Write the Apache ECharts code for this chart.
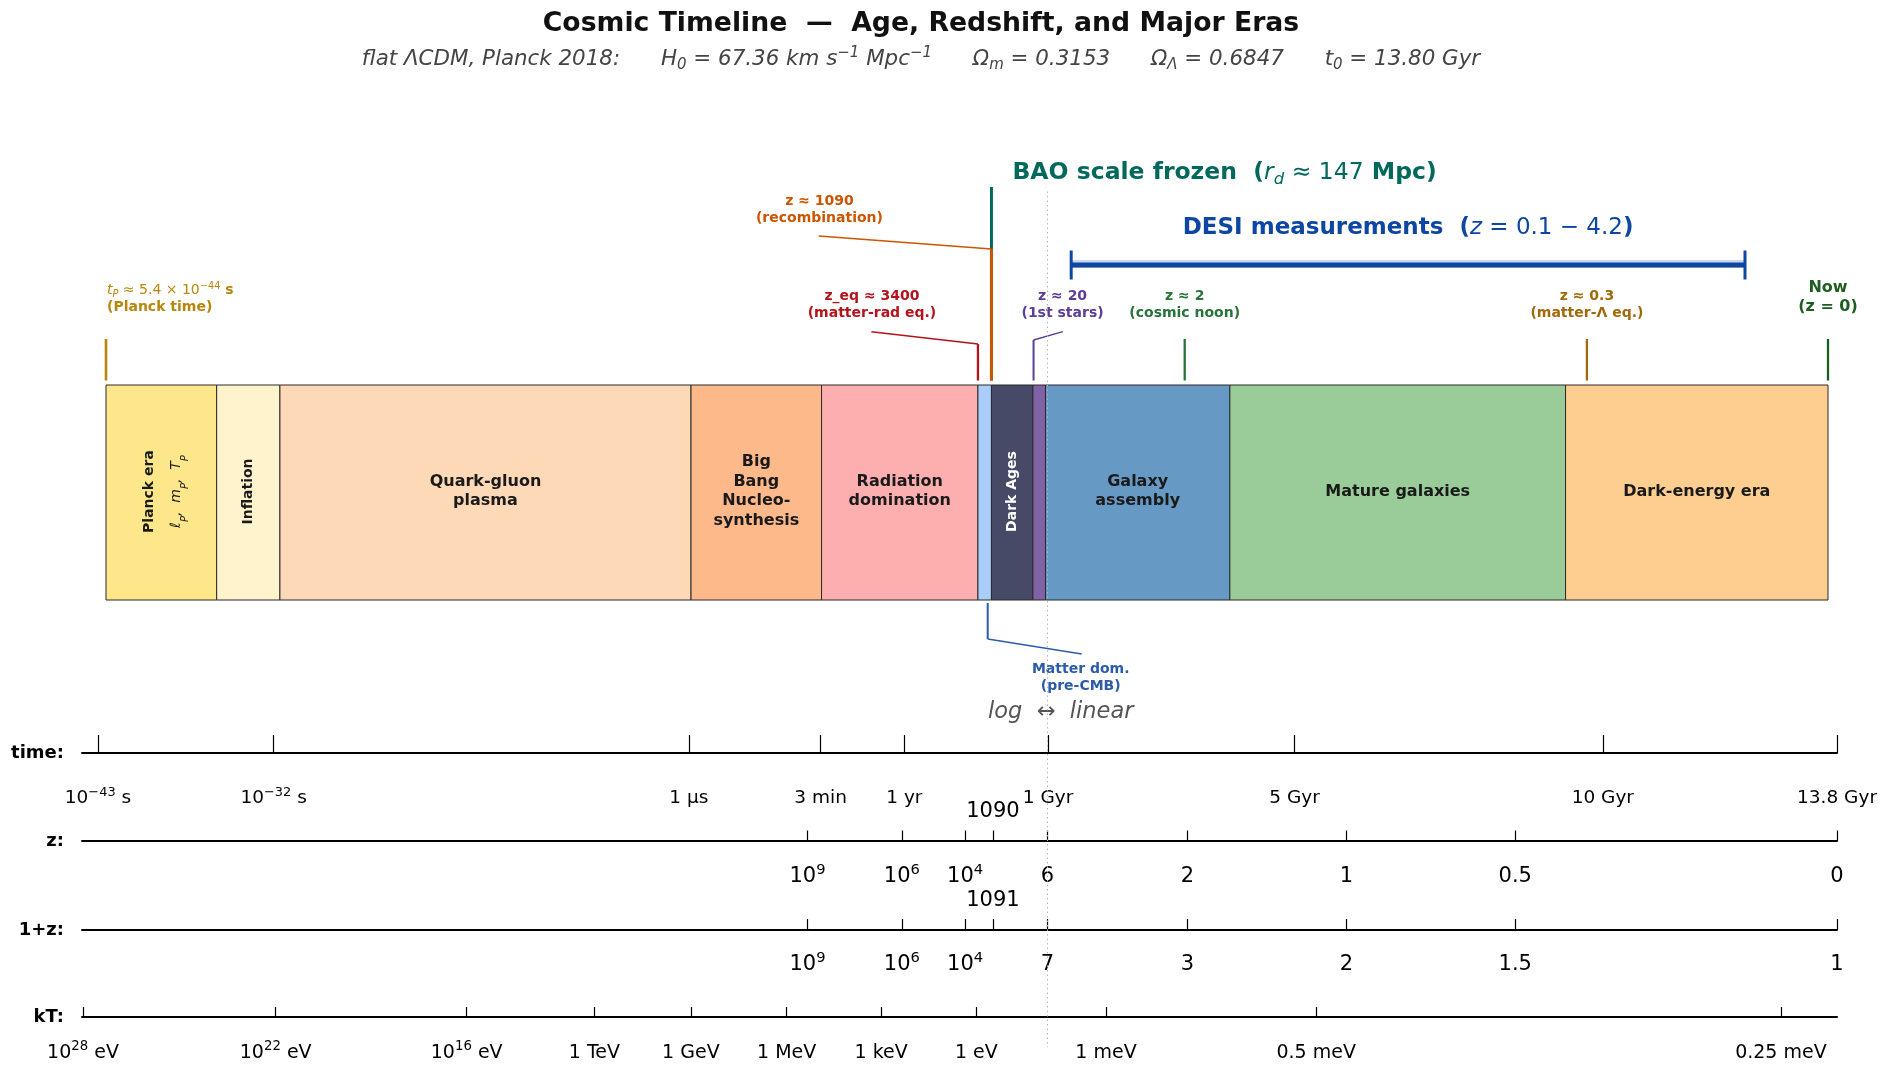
<!DOCTYPE html>
<html>
<head>
<meta charset="utf-8">
<title>Cosmic Timeline</title>
<script src="https://cdn.jsdelivr.net/npm/echarts@6/dist/echarts.min.js"></script>
<style>
  html, body { margin: 0; padding: 0; background: #fff; }
  #main { width: 1890px; height: 1079px; }
</style>
</head>
<body>
<div id="main"></div>
<script>
// time units and the broken timeline scale: log10(t/s) up to 1 Gyr, linear in Gyr after
var YR = 3.156e7;
var GYR = 3.156e16;
var DEC_PER_GYR = 3.86;   // width of one Gyr in the linear part, in decades of the log part
var LOG_GYR = Math.log10(GYR);
function toAxis(t) {
  return t <= GYR ? Math.log10(t) : LOG_GYR + DEC_PER_GYR * (t / GYR - 1);
}

// eras, ages in seconds
var eraNames = ['Planck era', 'Inflation', 'Quark-gluon\nplasma', 'Big\nBang\nNucleo-\nsynthesis',
  'Radiation\ndomination', 'Matter dom.', 'Dark Ages', '1st stars', 'Galaxy\nassembly',
  'Mature galaxies', 'Dark-energy era'];
var eraStart = [1e-43, 1e-36, 1e-32, 1e-6, 180, 1.4e12, 1.0e13, 4.2e15, 0.83 * GYR, 4.0 * GYR, 9.5 * GYR];
var eraEnd = [1e-36, 1e-32, 1e-6, 180, 1.4e12, 1.0e13, 4.2e15, 0.83 * GYR, 4.0 * GYR, 9.5 * GYR, 13.8 * GYR];

// event markers above the bar
var markerAges = [1e-43, 1.4e12, 1.0e13, 4.6e15, 3.26 * GYR, 9.85 * GYR, 13.8 * GYR];
var markerLabels = [
  '{i|t}{sub|P}{r| ≈ 5.4 × 10}{sup|−44}{b| s}\n{b|(Planck time)}',
  'z_eq ≈ 3400\n(matter-rad eq.)',
  'z ≈ 1090\n(recombination)',
  'z ≈ 20\n(1st stars)',
  'z ≈ 2\n(cosmic noon)',
  'z ≈ 0.3\n(matter-Λ eq.)',
  'Now\n(z = 0)'
];
var baoLabel = '{b|BAO scale frozen  (}{i|r}{sub|d}{r| ≈ 147}{b| Mpc)}';
var desiRange = [1.40 * GYR, 12.44 * GYR];   // z = 4.2 ... 0.1
var desiLabel = '{b|DESI measurements  (}{i|z}{r| = 0.1 − 4.2}{b|)}';
var matterDomAge = 5.8e12;
var matterDomLabel = 'Matter dom.\n(pre-CMB)';

// lower axes: tick ages (s) and labels
var timeTickAges = [1e-43, 1e-32, 1e-6, 180, YR, GYR, 5 * GYR, 10 * GYR, 13.8 * GYR];
var timeTickLabels = ['10⁻⁴³ s', '10⁻³² s', '1 µs', '3 min', '1 yr', '1 Gyr', '5 Gyr', '10 Gyr', '13.8 Gyr'];
var zTickAges = [27, 2.2e7, 2.0e11, 1.12e13, 0.93 * GYR, 3.26 * GYR, 5.84 * GYR, 8.58 * GYR, 13.8 * GYR];
var zTickLabels = ['10⁹', '10⁶', '10⁴', '1090', '6', '2', '1', '0.5', '0'];
var onePlusZTickLabels = ['10⁹', '10⁶', '10⁴', '1091', '7', '3', '2', '1.5', '1'];
var kTTickAges = [1.15e-44, 1.35e-32, 1.23e-20, 1.23e-12, 1.35e-6, 1.35, 1.12e6, 1.02e12,
  1.94 * GYR, 5.35 * GYR, 12.89 * GYR];
var kTTickLabels = ['10²⁸ eV', '10²² eV', '10¹⁶ eV', '1 TeV', '1 GeV', '1 MeV', '1 keV', '1 eV',
  '1 meV', '0.5 meV', '0.25 meV'];
var raisedLabels = ['1090', '1091'];

// ---- styles & layout ----
var FONT = 'DejaVu Sans';
var eraColors = ['#fee78a', '#fef3cd', '#fed9b7', '#feb98b', '#fdafb0', '#aacdfa',
  '#474a66', '#8062a6', '#6699c4', '#99cc99', '#fecd90'];
var eraLabelMode = ['v', 'v', 'h', 'h', 'h', '', 'v', '', 'h', 'h', 'h'];
var markerLayout = [
  { color: '#b8860b', width: 2.6, path: [[0, -4.5], [0, -46]], dx: 1, dy: -86, align: 'left', size: 14, lh: 18 },
  { color: '#b5121b', width: 2.3, path: [[0, -4.5], [0, -41], [-106.6, -53.3]], dx: -106, dy: -80.5, size: 14, lh: 17 },
  { color: '#cc5500', width: 3, path: [[0, -4.5], [0, -136], [-172.7, -149]], dx: -172, dy: -175.5, size: 14, lh: 17, bao: true },
  { color: '#5e3c99', width: 2, path: [[0, -4.5], [0, -45], [29.3, -53.3]], dx: 29, dy: -80.5, size: 14, lh: 17 },
  { color: '#27733a', width: 2.3, path: [[0, -4.5], [0, -46]], dx: 0, dy: -80.5, size: 14, lh: 17 },
  { color: '#a0690a', width: 2.3, path: [[0, -4.5], [0, -46]], dx: 0, dy: -80.5, size: 14, lh: 17 },
  { color: '#1b5e20', width: 2.3, path: [[0, -4.5], [0, -46]], dx: 0, dy: -87.5, size: 16, lh: 19 }
];
var BAO_COLOR = '#00695c';
var DESI_COLOR = '#0d47a1';
var MATTER_COLOR = '#2a5caa';
var TOP_MIN = toAxis(1e-43);
var BOTTOM_MIN = -44;
var U_MAX = toAxis(13.8 * GYR);

function rich(color, size, allItalic) {
  var base = { fontFamily: FONT, fill: color, color: color, fontSize: size, lineHeight: size * 1.25,
    fontStyle: allItalic ? 'italic' : 'normal' };
  var small = size * 0.7;
  return {
    b: Object.assign({}, base, { fontWeight: 'bold' }),
    r: Object.assign({}, base, { fontWeight: 'normal' }),
    i: Object.assign({}, base, { fontStyle: 'italic' }),
    sub: Object.assign({}, base, { fontStyle: 'italic', fontSize: small, lineHeight: small, verticalAlign: 'bottom' }),
    sup: Object.assign({}, base, { fontSize: small, lineHeight: small, verticalAlign: 'top' })
  };
}

// '10⁻⁴³ s' -> '{n|10}{s|−43}{n| s}' so the exponent is drawn like a math superscript
var SUP = '⁰¹²³⁴⁵⁶⁷⁸⁹⁻', PLAIN = '0123456789−';
function supToRich(label) {
  var out = '', cur = '', inSup = false;
  function flush() { if (cur) out += '{' + (inSup ? 's' : 'n') + '|' + cur + '}'; cur = ''; }
  for (var k = 0; k < label.length; k++) {
    var j = SUP.indexOf(label[k]);
    if ((j >= 0) !== inSup) { flush(); inSup = j >= 0; }
    cur += j >= 0 ? PLAIN[j] : label[k];
  }
  flush();
  return out;
}
function tickRich(size) {
  return {
    n: { fontFamily: FONT, fontSize: size, lineHeight: size * 1.3, color: '#000' },
    s: { fontFamily: FONT, fontSize: size * 0.7, lineHeight: size * 0.7, color: '#000', verticalAlign: 'top' }
  };
}

function textEl(x, y, text, o) {
  return {
    type: 'text', x: x, y: y, rotation: o.rotation || 0,
    style: {
      text: text, fill: o.color, fontFamily: FONT, fontSize: o.size, fontWeight: o.weight || 'bold',
      fontStyle: o.style || 'normal', lineHeight: o.lh, align: o.align || 'center', textAlign: o.align || 'center',
      verticalAlign: 'middle', textVerticalAlign: 'middle', rich: o.rich
    }
  };
}
function seg(x1, y1, x2, y2, color, w) {
  return { type: 'line', shape: { x1: x1, y1: y1, x2: x2, y2: y2 }, style: { stroke: color, lineWidth: w } };
}

function renderEra(params, api) {
  var i = params.dataIndex;
  var p0 = api.coord([api.value(0), 1]);
  var p1 = api.coord([api.value(1), 0]);
  var kids = [{
    type: 'rect', shape: { x: p0[0], y: p0[1], width: p1[0] - p0[0], height: p1[1] - p0[1] },
    style: { fill: eraColors[i], stroke: '#2b2b2b', lineWidth: 1 }
  }];
  var cx = (p0[0] + p1[0]) / 2, cy = (p0[1] + p1[1]) / 2 - 1;
  var fg = i === 6 ? '#ffffff' : '#1a1a1a';
  if (i === 0) {
    var pr = rich(fg, 14);
    pr.b.lineHeight = 27; pr.i.lineHeight = 27;
    pr.sub.fontSize = 10; pr.sub.lineHeight = 10;
    kids.push(textEl(cx + 2, cy, '{b|' + eraNames[i] + '}\n{i|ℓ}{sub|P}{i|,  m}{sub|P}{i|,  T}{sub|P}',
      { color: fg, size: 14, rotation: Math.PI / 2, rich: pr }));
  } else if (eraLabelMode[i] === 'v') {
    kids.push(textEl(cx, cy, eraNames[i], { color: fg, size: 14, rotation: Math.PI / 2 }));
  } else if (eraLabelMode[i] === 'h') {
    kids.push(textEl(cx, cy, eraNames[i], { color: fg, size: 16, lh: 19.5 }));
  }
  return { type: 'group', children: kids };
}

function renderMarker(params, api) {
  var i = params.dataIndex, L = markerLayout[i];
  var p = api.coord([api.value(0), 1]);
  var x = p[0], y = p[1];
  var kids = [];
  if (L.bao) {
    kids.push(seg(x, y - 4.5, x, y - 198, BAO_COLOR, 3));
    kids.push(textEl(x + 21, y - 212, baoLabel, { color: BAO_COLOR, size: 23.5, align: 'left', rich: rich(BAO_COLOR, 23.5) }));
  }
  var pts = L.path.map(function (d) { return [x + d[0], y + d[1]]; });
  kids.push(seg(pts[0][0], pts[0][1], pts[1][0], pts[1][1], L.color, L.width));
  if (pts.length > 2) kids.push(seg(pts[1][0], pts[1][1], pts[2][0], pts[2][1], L.color, 1.4));
  kids.push(textEl(x + L.dx, y + L.dy, markerLabels[i],
    { color: L.color, size: L.size, lh: L.lh, align: L.align, rich: rich(L.color, L.size) }));
  return { type: 'group', children: kids };
}

function renderDesi(params, api) {
  var a = api.coord([api.value(0), 1]), b = api.coord([api.value(1), 1]);
  var y = a[1] - 120;
  return { type: 'group', children: [
    seg(a[0], y - 1, b[0], y - 1, '#c9d7ef', 8),
    seg(a[0], y, b[0], y, DESI_COLOR, 5),
    seg(a[0], y - 14.5, a[0], y + 14.5, DESI_COLOR, 3),
    seg(b[0], y - 14.5, b[0], y + 14.5, DESI_COLOR, 3),
    textEl((a[0] + b[0]) / 2, y - 37, desiLabel, { color: DESI_COLOR, size: 23, rich: rich(DESI_COLOR, 23) })
  ] };
}

function renderBelow(params, api) {
  var p = api.coord([api.value(0), 0]);
  var x = p[0], y = p[1];
  if (params.dataIndex === 0) {
    return { type: 'group', children: [
      seg(x, y + 3, x, y + 39, MATTER_COLOR, 2),
      seg(x, y + 39, x + 94, y + 54, MATTER_COLOR, 1.4),
      textEl(x + 93, y + 77.5, matterDomLabel, { color: MATTER_COLOR, size: 14, lh: 17 })
    ] };
  }
  return textEl(x + 14, y + 111.7, 'log  ↔  linear', { color: '#555555', size: 22.5, weight: 'normal', style: 'italic' });
}

function nearestLabel(vals, labels, v) {
  var best = 0;
  for (var k = 1; k < vals.length; k++) if (Math.abs(vals[k] - v) < Math.abs(vals[best] - v)) best = k;
  return supToRich(labels[best]);
}

function lowerAxis(gridIndex, name, ages, labels, o) {
  var vals = ages.map(toAxis);
  var below = vals.filter(function (v, k) { return raisedLabels.indexOf(labels[k]) < 0; });
  return {
    type: 'value', gridIndex: gridIndex, min: BOTTOM_MIN, max: U_MAX, position: 'bottom',
    name: name, nameLocation: 'start', nameGap: 18,
    nameTextStyle: { fontFamily: FONT, fontWeight: 'bold', fontSize: 18, color: '#000' },
    axisLine: { show: true, onZero: false, lineStyle: { color: '#000', width: 2 } },
    axisTick: { show: true, inside: true, length: o.tick, customValues: vals, lineStyle: { color: '#000', width: 1.2 } },
    axisLabel: { show: true, customValues: below, margin: o.margin, fontFamily: FONT, fontSize: o.size, color: '#000',
      rich: tickRich(o.size),
      formatter: function (v) { return nearestLabel(vals, labels, v); } },
    splitLine: { show: false }
  };
}
function raisedAxis(gridIndex, ages, labels) {
  var vals = ages.map(toAxis);
  var up = vals.filter(function (v, k) { return raisedLabels.indexOf(labels[k]) >= 0; });
  return {
    type: 'value', gridIndex: gridIndex, min: BOTTOM_MIN, max: U_MAX, position: 'top',
    axisLine: { show: false }, axisTick: { show: false }, splitLine: { show: false },
    axisLabel: { show: true, customValues: up, margin: 15, fontFamily: FONT, fontSize: 21, color: '#000',
      rich: tickRich(21),
      formatter: function (v) { return nearestLabel(vals, labels, v); } }
  };
}

var lowerGrid = { left: 82, right: 53, height: 1 };
var option = {
  backgroundColor: '#ffffff',
  animation: false,
  grid: [
    { left: 106, right: 62, top: 170, bottom: 27.5 },
    Object.assign({ top: 752 }, lowerGrid),
    Object.assign({ top: 840 }, lowerGrid),
    Object.assign({ top: 929 }, lowerGrid),
    Object.assign({ top: 1016 }, lowerGrid)
  ],
  xAxis: [
    { type: 'value', gridIndex: 0, min: TOP_MIN, max: U_MAX, show: false },
    lowerAxis(1, 'time:', timeTickAges, timeTickLabels, { tick: 18, margin: 33, size: 18.5 }),
    lowerAxis(2, 'z:', zTickAges, zTickLabels, { tick: 10.5, margin: 21.5, size: 21 }),
    raisedAxis(2, zTickAges, zTickLabels),
    lowerAxis(3, '1+z:', zTickAges, onePlusZTickLabels, { tick: 11, margin: 20.5, size: 21 }),
    raisedAxis(3, zTickAges, onePlusZTickLabels),
    lowerAxis(4, 'kT:', kTTickAges, kTTickLabels, { tick: 10, margin: 23.5, size: 19 })
  ],
  yAxis: [
    { type: 'value', gridIndex: 0, min: -2.1, max: 2.0, show: false },
    { type: 'value', gridIndex: 1, min: 0, max: 1, show: false },
    { type: 'value', gridIndex: 2, min: 0, max: 1, show: false },
    { type: 'value', gridIndex: 3, min: 0, max: 1, show: false },
    { type: 'value', gridIndex: 4, min: 0, max: 1, show: false }
  ],
  graphic: [
    { type: 'text', x: 921, y: 24, style: { text: 'Cosmic Timeline  —  Age, Redshift, and Major Eras',
      fontFamily: FONT, fontSize: 26.7, fontWeight: 'bold', fill: '#111', align: 'center', textAlign: 'center',
      verticalAlign: 'middle', textVerticalAlign: 'middle' } },
    { type: 'text', x: 921, y: 59, style: {
      text: '{r|flat ΛCDM, Planck 2018:      H}{sub|0}{r| = 67.36 km s}{sup|−1}{r| Mpc}{sup|−1}' +
        '{r|      Ω}{sub|m}{r| = 0.3153      Ω}{sub|Λ}{r| = 0.6847      t}{sub|0}{r| = 13.80 Gyr}',
      rich: rich('#444444', 21.4, true), fill: '#444444', fontFamily: FONT, fontSize: 21.4,
      align: 'center', textAlign: 'center', verticalAlign: 'middle', textVerticalAlign: 'middle' } }
  ],
  series: [
    {
      type: 'line', xAxisIndex: 0, yAxisIndex: 0, data: [], z: 1, silent: true,
      markLine: { silent: true, symbol: 'none', label: { show: false },
        lineStyle: { type: [1.5, 3], color: '#b5b5b5', width: 1 },
        data: [[{ coord: [toAxis(GYR), 1.9] }, { coord: [toAxis(GYR), -2.08] }]] }
    },
    {
      type: 'custom', xAxisIndex: 0, yAxisIndex: 0, z: 3, silent: true, renderItem: renderEra,
      data: eraStart.map(function (t, k) { return [toAxis(t), toAxis(eraEnd[k])]; })
    },
    {
      type: 'custom', xAxisIndex: 0, yAxisIndex: 0, z: 4, silent: true, renderItem: renderMarker,
      data: markerAges.map(function (t) { return [toAxis(t), 1]; })
    },
    {
      type: 'custom', xAxisIndex: 0, yAxisIndex: 0, z: 4, silent: true, renderItem: renderDesi,
      data: [[toAxis(desiRange[0]), toAxis(desiRange[1])]]
    },
    {
      type: 'custom', xAxisIndex: 0, yAxisIndex: 0, z: 4, silent: true, renderItem: renderBelow,
      data: [[toAxis(matterDomAge), 0], [toAxis(GYR), 0]]
    }
  ]
};

var chart = echarts.init(document.getElementById('main'));
chart.setOption(option);
</script>
</body>
</html>
